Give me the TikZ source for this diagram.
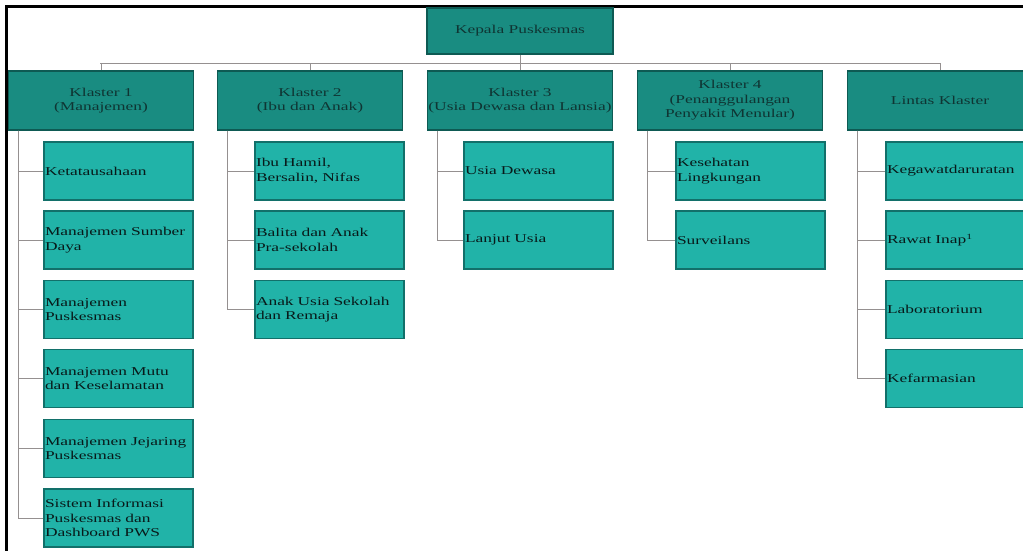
\documentclass[tikz,border=0pt]{standalone}
\usepackage{fontspec}
\setmainfont{Liberation Serif}[FakeStretch=1.45]
\definecolor{hdrfill}{HTML}{198C81}
\definecolor{hdrline}{HTML}{0E5A53}
\definecolor{hdrtext}{HTML}{0F3533}
\definecolor{leaffill}{HTML}{21B3A8}
\definecolor{leafline}{HTML}{12706A}
\definecolor{leaftext}{HTML}{081A1A}
\definecolor{linkgray}{HTML}{959090}
\begin{document}
\begin{tikzpicture}[x=1pt,y=-1pt,
  boxfont/.style={font=\fontsize{12}{14.5}\selectfont},
  hdr/.style={boxfont, draw=hdrline, line width=1.2pt, fill=hdrfill, text=hdrtext,
    minimum width=185pt, minimum height=59pt, align=center, inner sep=1pt},
  leaf/.style={boxfont, draw=leafline, line width=1.2pt, fill=leaffill, text=leaftext,
    text width=147pt, inner xsep=1pt, inner ysep=1pt, minimum height=58pt, align=left},
  link/.style={draw=linkgray, line width=0.9pt}]
\useasboundingbox (0,0) rectangle (1023,550);
\clip (0,0) rectangle (1023,550);

% outer frame (top and left edges)
\draw[line width=2.6pt, black] (6.5,552) -- (6.5,6.5) -- (1025,6.5);

% head of the organisation
\node[hdr, minimum width=186pt, minimum height=46pt] (top) at (520,31) {Kepala Puskesmas};

% cluster headers
\node[hdr] (h1) at (101,100.5) {Klaster 1\\(Manajemen)};
\node[hdr] (h2) at (310,100.5) {Klaster 2\\(Ibu dan Anak)};
\node[hdr] (h3) at (520,100.5) {Klaster 3\\(Usia Dewasa dan Lansia)};
\node[hdr] (h4) at (730,100.5) {Klaster 4\\(Penanggulangan\\Penyakit Menular)};
\node[hdr] (h5) at (940,100.5) {Lintas Klaster};

% bus from the head to the clusters
\coordinate (busL) at (100,63);
\coordinate (busR) at (940,63);
\draw[link] (top.south) -- (top.south |- busL);
\draw[link] (busL) -- (busR);
\foreach \h in {h1,h2,h3,h4,h5}
  \draw[link] (\h.north |- busL) -- (\h.north);

% Klaster 1
\node[leaf] (a1) at (118.5,171)   {Ketatausahaan};
\node[leaf] (a2) at (118.5,240)   {Manajemen Sumber\\Daya};
\node[leaf] (a3) at (118.5,309.5) {Manajemen\\Puskesmas};
\node[leaf] (a4) at (118.5,378.5) {Manajemen Mutu\\dan Keselamatan};
\node[leaf] (a5) at (118.5,448.5) {Manajemen Jejaring\\Puskesmas};
\node[leaf] (a6) at (118.5,518)   {Sistem Informasi\\Puskesmas dan\\Dashboard PWS};

% Klaster 2
\node[leaf] (b1) at (329.5,171)   {Ibu Hamil,\\Bersalin, Nifas};
\node[leaf] (b2) at (329.5,240)   {Balita dan Anak\\Pra-sekolah};
\node[leaf] (b3) at (329.5,309.5) {Anak Usia Sekolah\\dan Remaja};

% Klaster 3
\node[leaf] (c1) at (538.5,171)   {Usia Dewasa};
\node[leaf] (c2) at (538.5,240)   {Lanjut Usia};

% Klaster 4
\node[leaf] (d1) at (750.5,171)   {Kesehatan\\Lingkungan};
\node[leaf] (d2) at (750.5,240)   {Surveilans};

% Lintas Klaster
\node[leaf] (e1) at (960.5,171)   {Kegawatdaruratan};
\node[leaf] (e2) at (960.5,240)   {Rawat Inap\textsuperscript{1}};
\node[leaf] (e3) at (960.5,309.5) {Laboratorium};
\node[leaf] (e4) at (960.5,378.5) {Kefarmasian};

% elbow connectors from each header to its items
\foreach \c in {a1,a2,a3,a4,a5,a6}
  \draw[link] ([xshift=11pt]h1.south west) |- (\c.west);
\foreach \c in {b1,b2,b3}
  \draw[link] ([xshift=11pt]h2.south west) |- (\c.west);
\foreach \c in {c1,c2}
  \draw[link] ([xshift=11pt]h3.south west) |- (\c.west);
\foreach \c in {d1,d2}
  \draw[link] ([xshift=11pt]h4.south west) |- (\c.west);
\foreach \c in {e1,e2,e3,e4}
  \draw[link] ([xshift=11pt]h5.south west) |- (\c.west);
\end{tikzpicture}
\end{document}
